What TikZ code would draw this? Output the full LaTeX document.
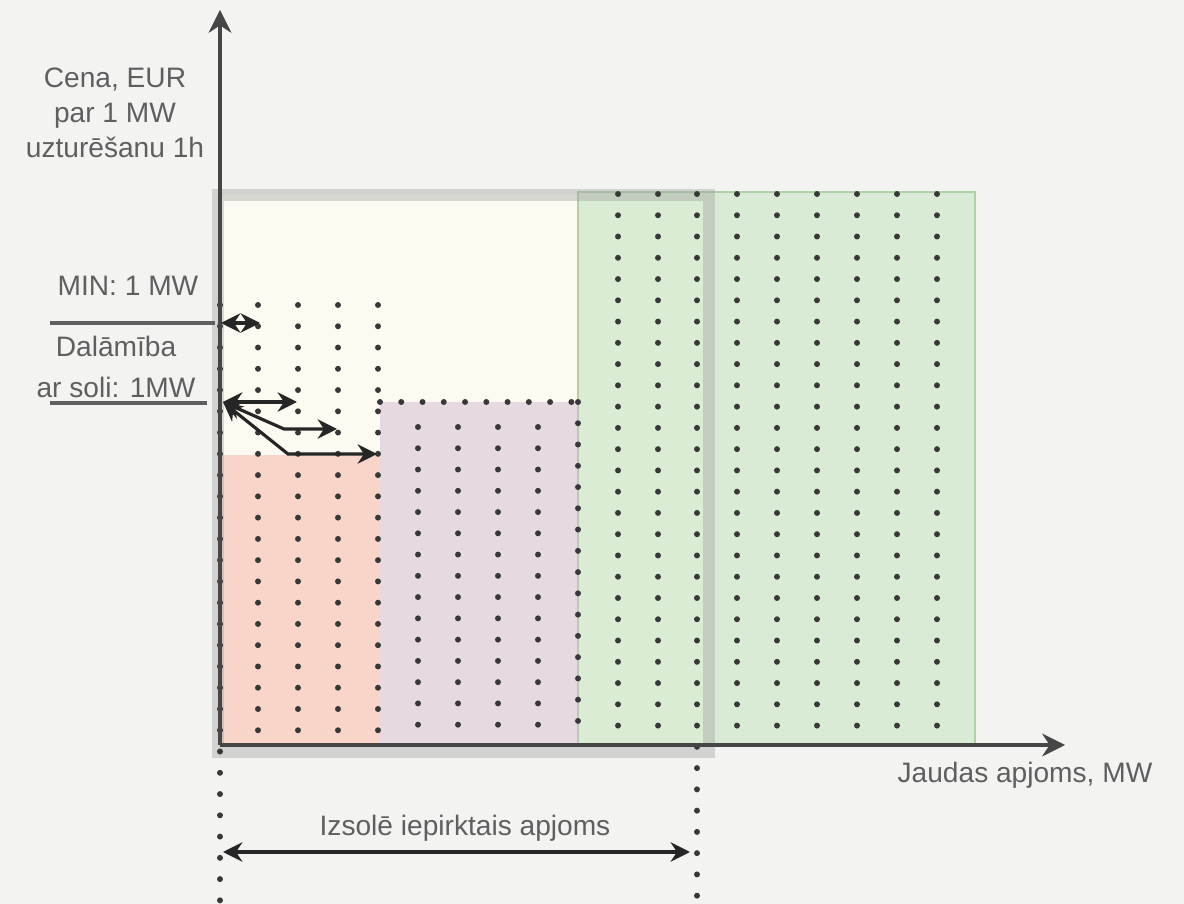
\documentclass[tikz,border=0pt]{standalone}
\usepackage{fontspec}
\setmainfont{Liberation Sans}
\usetikzlibrary{arrows.meta}

\definecolor{paper}{RGB}{243,243,242}
\definecolor{cream}{RGB}{253,251,241}
\definecolor{redbox}{RGB}{248,213,200}
\definecolor{purplebox}{RGB}{230,217,226}
\definecolor{greenbox}{RGB}{214,234,208}
\definecolor{greenedge}{RGB}{176,208,168}
\definecolor{framegray}{RGB}{150,150,150}
\definecolor{axisgray}{RGB}{70,70,70}
\definecolor{txtgray}{RGB}{95,95,95}

\tikzset{
	dotcol/.style={line width=1.7pt, line cap=round, dash pattern=on 0pt off 6.05pt, black!78},
	lbl/.style={text=txtgray, font=\fontsize{8}{10}\selectfont, inner sep=0pt, align=center},
	dimarrow/.style={black!85, line width=0.9pt, {Stealth[length=5.5pt,width=5.5pt]}-{Stealth[length=5.5pt,width=5.5pt]}},
	axisarrow/.style={axisgray, line width=0.9pt, -{Stealth[length=6.5pt,width=6.5pt]}},
}

\begin{document}
\begin{tikzpicture}
	\useasboundingbox [fill=paper] (-2.20,-1.59) rectangle (9.64,7.45);

	\coordinate (O) at (0, 0);
	\coordinate (Ytop) at (0, 7.35);
	\coordinate (Xend) at (8.45, 0);

	% boxes
	\fill [cream] (0,0) rectangle (4.89, 5.50);
	\fill [redbox] (0,0) rectangle (1.60, 2.90);
	\fill [purplebox] (1.60,0) rectangle (3.58, 3.43);
	\draw [greenedge, fill=greenbox, fill opacity=0.85] (3.58,0) rectangle (7.55, 5.53);
	\draw [framegray, line width=3.4pt, opacity=0.35] (-0.02,-0.07) rectangle (4.89, 5.50);

	% dots
	\draw [dotcol] (0, 4.40) -- (0, -1.59);
	\draw [dotcol] (0.38, 4.40) -- (0.38, 0.10);
	\draw [dotcol] (0.78, 4.40) -- (0.78, 0.10);
	\draw [dotcol] (1.18, 4.40) -- (1.18, 0.10);
	\draw [dotcol] (1.58, 4.40) -- (1.58, 0.10);
	\draw [dotcol] (1.60, 3.43) -- (3.58, 3.43);
	\draw [dotcol] (1.98, 3.18) -- (1.98, 0.10);
	\draw [dotcol] (2.38, 3.18) -- (2.38, 0.10);
	\draw [dotcol] (2.78, 3.18) -- (2.78, 0.10);
	\draw [dotcol] (3.18, 3.18) -- (3.18, 0.10);
	\draw [dotcol] (3.58, 3.43) -- (3.58, 0.10);
	\draw [dotcol] (3.98, 5.51) -- (3.98, 0.10);
	\draw [dotcol] (4.38, 5.51) -- (4.38, 0.10);
	\draw [dotcol] (4.77, 5.51) -- (4.77, -1.59);
	\draw [dotcol] (5.17, 5.51) -- (5.17, 0.10);
	\draw [dotcol] (5.57, 5.51) -- (5.57, 0.10);
	\draw [dotcol] (5.97, 5.51) -- (5.97, 0.10);
	\draw [dotcol] (6.37, 5.51) -- (6.37, 0.10);
	\draw [dotcol] (6.77, 5.51) -- (6.77, 0.10);
	\draw [dotcol] (7.17, 5.51) -- (7.17, 0.00);

	% axes
	\draw [axisarrow] (O) -- (Ytop);
	\draw [axisarrow] (O) -- (Xend);

	% min and step
	\coordinate (minL) at (-1.70, 4.22);
	\coordinate (minR) at (-0.05, 4.22);
	\coordinate (stepL) at (-1.70, 3.42);
	\coordinate (stepR) at (-0.13, 3.42);
	\draw [txtgray, line width=1.1pt] (minL) -- (minR);
	\draw [txtgray, line width=1.1pt] (stepL) -- (stepR);

	\coordinate (m0) at (0.01, 4.22);
	\coordinate (m1) at (0.40, 4.22);
	\draw [dimarrow] (m0) -- (m1);

	\coordinate (s0) at (0.03, 3.43);
	\coordinate (s1) at (0.77, 3.43);
	\coordinate (b2) at (0.64, 3.16);
	\coordinate (s2) at (1.17, 3.16);
	\coordinate (b3) at (0.68, 2.91);
	\coordinate (s3) at (1.57, 2.91);
	\draw [dimarrow] (s0) -- (s1);
	\draw [dimarrow] (s0) -- (b2) -- (s2);
	\draw [dimarrow] (s0) -- (b3) -- (s3);

	% bought volume
	\coordinate (v0) at (0.03, -1.07);
	\coordinate (v1) at (4.70, -1.07);
	\draw [dimarrow] (v0) -- (v1);

	\node [lbl] (cena) at (-1.05, 6.32) {Cena, EUR\\par 1 MW\\uzturēšanu 1h};
	\node [lbl] (minlbl) at (-0.92, 4.59) {MIN: 1 MW};
	\node [lbl] (dala) at (-1.04, 3.78) {Dalāmība\\[1.5pt]ar soli: 1MW};
	\node [lbl] (jauda) at (8.05, -0.30) {Jaudas apjoms, MW};
	\node [lbl] (izsole) at (2.45, -0.83) {Izsolē iepirktais apjoms};
\end{tikzpicture}
\end{document}
